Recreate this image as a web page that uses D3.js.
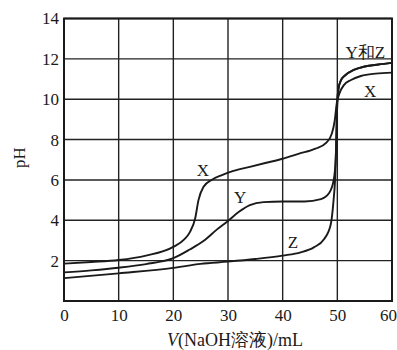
<!DOCTYPE html>
<html>
<head>
<meta charset="utf-8">
<script src="https://cdn.jsdelivr.net/npm/d3@7"></script>
<style>
  html, body { margin: 0; padding: 0; background: #fff; }
  svg { display: block; }
  text { font-family: "Liberation Serif", "DejaVu Serif", serif; fill: #1a1a1a; }
</style>
</head>
<body>
<svg id="chart" width="397" height="350"></svg>
<script>
// ---- data ----
const xTicks = [0, 10, 20, 30, 40, 50, 60];
const yTicks = [2, 4, 6, 8, 10, 12, 14];
const yGrid = [0, 2, 4, 6, 8, 10, 12, 14];

// curve X
const curveX_V  = [0, 5, 10, 15, 20, 22, 23, 24, 24.6, 25.5, 27, 29, 31, 34, 37, 40, 43, 46, 48, 49, 49.5, 49.9, 50.4, 51.2, 52.5, 54.3, 57, 60];
const curveX_pH = [1.85, 1.93, 2.03, 2.25, 2.68, 3.05, 3.4, 4.1, 5.0, 5.65, 6.0, 6.25, 6.45, 6.65, 6.85, 7.05, 7.3, 7.55, 7.85, 8.3, 8.9, 9.8, 10.3, 10.7, 10.95, 11.15, 11.27, 11.32];

// curve Y
const curveY_V  = [0, 5, 10, 15, 20, 23, 25.5, 28, 30, 32, 34, 36.5, 40, 44, 47, 48.5, 49.3, 49.7, 49.85, 50.0, 50.2, 50.6, 51.5, 53, 55, 57.5, 60];
const curveY_pH = [1.42, 1.52, 1.65, 1.83, 2.12, 2.55, 2.97, 3.55, 3.97, 4.42, 4.75, 4.9, 4.93, 4.93, 5.05, 5.35, 5.95, 7.0, 8.5, 9.9, 10.5, 10.9, 11.2, 11.45, 11.62, 11.72, 11.8];

// curve Z
const curveZ_V  = [0, 10, 20, 25, 30, 35, 40, 43.3, 45.7, 47.6, 48.8, 49.3, 49.6, 49.8, 50.0, 50.2, 50.6, 51.5, 53, 55, 57.5, 60];
const curveZ_pH = [1.13, 1.37, 1.64, 1.84, 1.95, 2.08, 2.25, 2.41, 2.66, 3.07, 3.8, 4.96, 6.1, 7.8, 9.9, 10.5, 10.9, 11.2, 11.45, 11.62, 11.72, 11.8];

const labelText = ["X", "Y", "Z", "Y和Z", "X"];
const labelV    = [25.4, 32.2, 41.9, 55.1, 56.0];
const labelPH   = [6.45, 5.15, 2.92, 12.3, 10.4];

// ---- layout ----
const svg = d3.select("#chart");
const x = d3.scaleLinear().domain([0, 60]).range([64, 392]);
const y = d3.scaleLinear().domain([0, 14]).range([301, 18.5]);
const FS = 17;

// grid
const g = svg.append("g");
g.selectAll("line.vg").data(xTicks).enter().append("line")
  .attr("x1", d => x(d)).attr("x2", d => x(d))
  .attr("y1", y(0)).attr("y2", y(14))
  .attr("stroke", "#222").attr("stroke-width", 1.4);
g.selectAll("line.hg").data(yGrid).enter().append("line")
  .attr("x1", x(0)).attr("x2", x(60))
  .attr("y1", d => y(d)).attr("y2", d => y(d))
  .attr("stroke", "#222").attr("stroke-width", 1.4);
// frame
g.append("rect")
  .attr("x", x(0)).attr("y", y(14))
  .attr("width", x(60) - x(0)).attr("height", y(0) - y(14))
  .attr("fill", "none").attr("stroke", "#1a1a1a").attr("stroke-width", 2);

// axes labels (tick text)
const xAxis = d3.axisBottom(x).tickValues(xTicks).tickSize(0).tickPadding(8);
const xa = svg.append("g").attr("transform", `translate(0,${y(0)})`).call(xAxis);
xa.select(".domain").remove();
xa.selectAll("text").attr("font-size", FS).attr("font-family", "Liberation Serif, serif").attr("fill", "#1a1a1a")
  .attr("dx", d => d === 60 ? -4 : 0);

const yAxis = d3.axisLeft(y).tickValues(yTicks).tickSize(0).tickPadding(5);
const ya = svg.append("g").attr("transform", `translate(${x(0)},0)`).call(yAxis);
ya.select(".domain").remove();
ya.selectAll("text").attr("font-size", FS).attr("font-family", "Liberation Serif, serif").attr("fill", "#1a1a1a");

// curves
const line = d3.line().x(d => x(d[0])).y(d => y(d[1])).curve(d3.curveMonotoneX);
const series = [
  d3.zip(curveX_V, curveX_pH),
  d3.zip(curveY_V, curveY_pH),
  d3.zip(curveZ_V, curveZ_pH)
];
svg.selectAll("path.curve").data(series).enter().append("path")
  .attr("class", "curve")
  .attr("d", line)
  .attr("fill", "none").attr("stroke", "#1a1a1a").attr("stroke-width", 1.9);

// curve labels
svg.selectAll("text.lbl").data(d3.range(labelText.length)).enter().append("text")
  .attr("class", "lbl")
  .attr("x", i => x(labelV[i])).attr("y", i => y(labelPH[i]))
  .attr("text-anchor", "middle").attr("dominant-baseline", "central")
  .attr("font-size", FS)
  .text(i => labelText[i]);

// axis titles
svg.append("text")
  .attr("transform", `translate(25,${y(7.1)}) rotate(-90)`)
  .attr("text-anchor", "middle").attr("font-size", FS)
  .text("pH");

const xt = svg.append("text")
  .attr("x", 235).attr("y", 346)
  .attr("text-anchor", "middle").attr("font-size", 18);
xt.append("tspan").attr("font-style", "italic").text("V");
xt.append("tspan").text("(NaOH溶液)/mL");
</script>
</body>
</html>
